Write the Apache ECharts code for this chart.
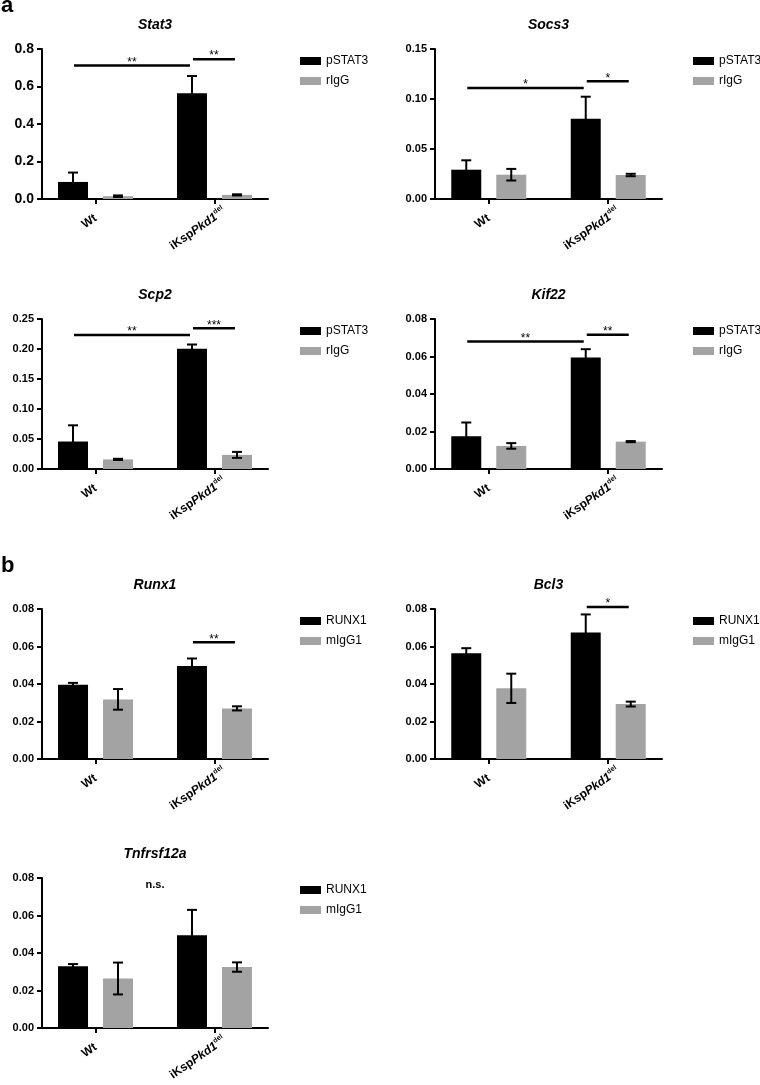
<!DOCTYPE html>
<html><head><meta charset="utf-8">
<script src="https://cdn.jsdelivr.net/npm/echarts@6/dist/echarts.min.js"></script>
<style>html,body{margin:0;padding:0;background:#fff}#c{width:760px;height:1085px}</style>
</head><body><div id="c"></div>
<script>
// ---------- DATA ----------
const genes = ['Stat3', 'Socs3', 'Scp2', 'Kif22', 'Runx1', 'Bcl3', 'Tnfrsf12a'];
const categories = ['Wt', 'iKspPkd1del'];
const namesA = ['pSTAT3', 'rIgG'];
const namesB = ['RUNX1', 'mIgG1'];

const stat3Ab = [0.091, 0.564],   stat3AbErr = [0.050, 0.092];
const stat3Ig = [0.015, 0.022],   stat3IgErr = [0.004, 0.003];
const socs3Ab = [0.0293, 0.0803], socs3AbErr = [0.0094, 0.0220];
const socs3Ig = [0.0243, 0.0240], socs3IgErr = [0.0058, 0.0012];
const scp2Ab = [0.0458, 0.2005],  scp2AbErr = [0.0270, 0.0070];
const scp2Ig = [0.0160, 0.0235],  scp2IgErr = [0.0010, 0.0050];
const kif22Ab = [0.0175, 0.0595], kif22AbErr = [0.0073, 0.0044];
const kif22Ig = [0.0123, 0.0146], kif22IgErr = [0.0015, 0.0003];
const runx1Ab = [0.0396, 0.0496], runx1AbErr = [0.0010, 0.0040];
const runx1Ig = [0.0318, 0.0270], runx1IgErr = [0.0055, 0.0011];
const bcl3Ab = [0.0564, 0.0675],  bcl3AbErr = [0.0027, 0.0096];
const bcl3Ig = [0.0377, 0.0293],  bcl3IgErr = [0.0078, 0.0013];
const tnfAb = [0.0330, 0.0495],   tnfAbErr = [0.0011, 0.0135];
const tnfIg = [0.0264, 0.0325],   tnfIgErr = [0.0085, 0.0025];

const yMax = [0.8, 0.15, 0.25, 0.08, 0.08, 0.08, 0.08];
const yInterval = [0.2, 0.05, 0.05, 0.02, 0.02, 0.02, 0.02];
const yDecimals = [1, 2, 2, 2, 2, 2, 2];

// significance: [fromCat, fromSeries, toCat, toSeries, yValue, label]
const sigStat3 = [[0, 0, 1, 0, 0.712, '**'], [1, 0, 1, 1, 0.746, '**']];
const sigSocs3 = [[0, 0, 1, 0, 0.111, '*'], [1, 0, 1, 1, 0.1177, '*']];
const sigScp2 = [[0, 0, 1, 0, 0.2235, '**'], [1, 0, 1, 1, 0.2346, '***']];
const sigKif22 = [[0, 0, 1, 0, 0.068, '**'], [1, 0, 1, 1, 0.0716, '**']];
const sigRunx1 = [[1, 0, 1, 1, 0.0623, '**']];
const sigBcl3 = [[1, 0, 1, 1, 0.0811, '*']];
const sigTnf = [];
// text-only notes: [xPosition, yValue, label]
const noteTnf = [[0.5, 0.0764, 'n.s.']];

// ---------- BUILD ----------
const panels = [
  {ab: stat3Ab, abErr: stat3AbErr, ig: stat3Ig, igErr: stat3IgErr, names: namesA, sig: sigStat3, notes: []},
  {ab: socs3Ab, abErr: socs3AbErr, ig: socs3Ig, igErr: socs3IgErr, names: namesA, sig: sigSocs3, notes: []},
  {ab: scp2Ab, abErr: scp2AbErr, ig: scp2Ig, igErr: scp2IgErr, names: namesA, sig: sigScp2, notes: []},
  {ab: kif22Ab, abErr: kif22AbErr, ig: kif22Ig, igErr: kif22IgErr, names: namesA, sig: sigKif22, notes: []},
  {ab: runx1Ab, abErr: runx1AbErr, ig: runx1Ig, igErr: runx1IgErr, names: namesB, sig: sigRunx1, notes: []},
  {ab: bcl3Ab, abErr: bcl3AbErr, ig: bcl3Ig, igErr: bcl3IgErr, names: namesB, sig: sigBcl3, notes: []},
  {ab: tnfAb, abErr: tnfAbErr, ig: tnfIg, igErr: tnfIgErr, names: namesB, sig: sigTnf, notes: noteTnf}
];

const FONT = '"Liberation Sans", Arial, Helvetica, sans-serif';
const colLeft = [42, 435], colWidth = [226, 227];
const rowTop = [49, 319, 609, 878], plotH = 150;
const BAR_W = 30, BAR_OFF = 22.5, CAP = 10;
const BLACK = '#000000', GREY = '#a3a3a3';

const grid = [], xAxis = [], yAxis = [], series = [], legend = [], graphic = [];

function barOffset(s) { return s === 0 ? -BAR_OFF : (s === 1 ? BAR_OFF : 0); }

function catLabel(v) {
  const k = Math.round(v);
  if (k === 0) return '{n|' + categories[0] + '}';
  return '{n|iKsp}{i|Pkd1}{s|del}';
}

panels.forEach((p, i) => {
  const r = Math.floor(i / 2), c = i % 2;
  const L = colLeft[c], W = colWidth[c], T = rowTop[r];
  grid.push({left: L, top: T, width: W, height: plotH, containLabel: false});
  xAxis.push({
    type: 'value', gridIndex: i, min: -0.45, max: 1.45,
    splitLine: {show: false},
    axisLine: {show: true, lineStyle: {color: BLACK, width: 2}},
    axisTick: {show: true, customValues: [0, 1], length: 5, lineStyle: {color: BLACK, width: 2}},
    axisLabel: {
      show: true, customValues: [0, 1], rotate: 35, margin: 18,
      formatter: catLabel,
      rich: {
        n: {fontFamily: FONT, fontSize: 12, fontWeight: 'bold', color: BLACK, lineHeight: 15},
        i: {fontFamily: FONT, fontSize: 12, fontWeight: 'bold', fontStyle: 'italic', color: BLACK, lineHeight: 15},
        s: {fontFamily: FONT, fontSize: 7, fontWeight: 'bold', color: BLACK, verticalAlign: 'top', padding: [0, -12, 0, 0]}
      }
    }
  });
  yAxis.push({
    type: 'value', gridIndex: i, min: 0, max: yMax[i], interval: yInterval[i],
    splitLine: {show: false},
    axisLine: {show: true, onZero: false, lineStyle: {color: BLACK, width: 2}},
    axisTick: {show: true, length: 5, lineStyle: {color: BLACK, width: 2}},
    axisLabel: {
      fontFamily: FONT, fontSize: i === 0 ? 14 : 11, fontWeight: 'bold', color: BLACK, margin: 8,
      formatter: v => v.toFixed(yDecimals[i])
    }
  });
  series.push({
    type: 'bar', name: p.names[0], xAxisIndex: i, yAxisIndex: i,
    barWidth: BAR_W, barGap: '50%', itemStyle: {color: BLACK},
    data: p.ab.map((v, k) => [k, v])
  });
  series.push({
    type: 'bar', name: p.names[1], xAxisIndex: i, yAxisIndex: i,
    barWidth: BAR_W, barGap: '50%', itemStyle: {color: GREY},
    data: p.ig.map((v, k) => [k, v])
  });
  // error bars
  const errData = [];
  p.ab.forEach((v, k) => errData.push([k, 0, v, p.abErr[k]]));
  p.ig.forEach((v, k) => errData.push([k, 1, v, p.igErr[k]]));
  series.push({
    type: 'custom', xAxisIndex: i, yAxisIndex: i, z: 5, silent: true,
    encode: {x: 0, y: 2},
    data: errData,
    renderItem: (params, api) => {
      const x = api.value(0), s = api.value(1), m = api.value(2), e = api.value(3);
      const top = api.coord([x, m + e]), bot = api.coord([x, m - e]);
      const cx = top[0] + barOffset(s), h = CAP / 2;
      const st = {stroke: BLACK, lineWidth: 2};
      return {type: 'group', children: [
        {type: 'line', shape: {x1: cx, y1: top[1], x2: cx, y2: bot[1]}, style: st},
        {type: 'line', shape: {x1: cx - h, y1: top[1], x2: cx + h, y2: top[1]}, style: st},
        {type: 'line', shape: {x1: cx - h, y1: bot[1], x2: cx + h, y2: bot[1]}, style: st}
      ]};
    }
  });
  // significance lines
  if (p.sig.length) {
    const sig = p.sig;
    series.push({
      type: 'custom', xAxisIndex: i, yAxisIndex: i, z: 6, silent: true,
      encode: {x: 0, y: 4},
      data: sig.map(d => d.slice(0, 5)),
      renderItem: (params, api) => {
        const d = sig[params.dataIndex];
        const p1 = api.coord([d[0], d[4]]), p2 = api.coord([d[2], d[4]]);
        const a = p1[0] + barOffset(d[1]) + 1, b = p2[0] + barOffset(d[3]) - 2;
        return {type: 'group', children: [
          {type: 'line', shape: {x1: a, y1: p1[1], x2: b, y2: p1[1]}, style: {stroke: BLACK, lineWidth: 2.5}},
          {type: 'text', style: {x: (a + b) / 2, y: p1[1] - 3, text: d[5], textAlign: 'center', textVerticalAlign: 'middle',
            font: '12px ' + FONT, fill: BLACK}}
        ]};
      }
    });
  }
  if (p.notes.length) {
    const notes = p.notes;
    series.push({
      type: 'custom', xAxisIndex: i, yAxisIndex: i, z: 6, silent: true,
      encode: {x: 0, y: 1},
      data: notes.map(d => d.slice(0, 2)),
      renderItem: (params, api) => {
        const d = notes[params.dataIndex];
        const pt = api.coord([d[0], d[1]]);
        return {type: 'text', style: {x: pt[0], y: pt[1], text: d[2], textAlign: 'center', textVerticalAlign: 'middle',
          font: 'bold 11px ' + FONT, fill: BLACK}};
      }
    });
  }
  legend.push({
    data: p.names, orient: 'vertical', left: L + 258, top: T + 6, padding: 0,
    icon: 'rect', itemWidth: 21, itemHeight: 8, itemGap: 8, selectedMode: false,
    textStyle: {fontFamily: FONT, fontSize: 12, color: BLACK}
  });
  graphic.push({type: 'text', x: L + W / 2, y: T - 24,
    style: {text: genes[i], textAlign: 'center', textVerticalAlign: 'middle',
      font: 'italic bold 14px ' + FONT, fill: BLACK}});
});

graphic.push({type: 'text', x: 1, y: 6, style: {text: 'a', textVerticalAlign: 'middle', font: 'bold 22px ' + FONT, fill: BLACK}});
graphic.push({type: 'text', x: 1, y: 566, style: {text: 'b', textVerticalAlign: 'middle', font: 'bold 22px ' + FONT, fill: BLACK}});

const chart = echarts.init(document.getElementById('c'), null, {renderer: 'canvas'});
chart.setOption({
  animation: false,
  backgroundColor: '#ffffff',
  grid, xAxis, yAxis, series, legend, graphic
});
</script>
</body></html>
